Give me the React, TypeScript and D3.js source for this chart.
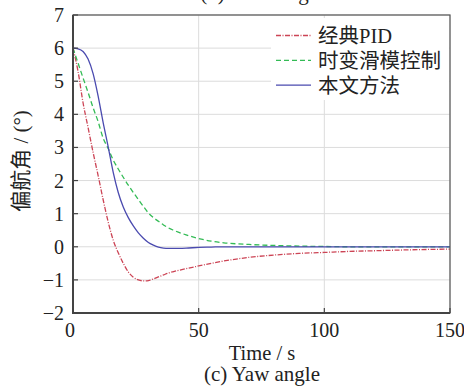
import React from "react";
import * as d3 from "d3";

const timeS = [0, 2, 4, 6, 8, 10, 12, 14, 16, 18, 20, 22, 24, 26, 28, 30, 32, 34, 36, 38, 40, 45, 50, 55, 60, 70, 80, 90, 100, 110, 120, 135, 150];
const pidYaw = [6, 5.3, 4.35, 3.6, 2.85, 2.15, 1.42, 0.75, 0.2, -0.18, -0.5, -0.76, -0.92, -1.0, -1.03, -1.02, -0.97, -0.91, -0.85, -0.79, -0.75, -0.66, -0.58, -0.5, -0.43, -0.32, -0.25, -0.2, -0.17, -0.14, -0.12, -0.09, -0.07];
const smcYaw = [6, 5.55, 5.1, 4.66, 4.2, 3.78, 3.28, 2.97, 2.62, 2.35, 2.1, 1.86, 1.64, 1.43, 1.22, 1.02, 0.88, 0.77, 0.66, 0.57, 0.5, 0.36, 0.25, 0.17, 0.12, 0.07, 0.04, 0.02, 0.01, 0, 0, 0, 0];
const oursYaw = [6, 5.98, 5.9, 5.67, 5.23, 4.55, 3.75, 3.02, 2.25, 1.64, 1.2, 0.88, 0.63, 0.42, 0.26, 0.13, 0.05, -0.01, -0.04, -0.05, -0.05, -0.04, -0.02, -0.01, 0, 0, 0, 0, 0, 0, 0, 0, 0];

const seriesNames = ["经典PID", "时变滑模控制", "本文方法"];
const seriesColors = ["#cc4455", "#33bb55", "#4a4aaf"];
const seriesDash = ["5,1.5,1,1.5", "5,3", ""];
const xTicks = [0, 50, 100, 150];
const yTicks = [-2, -1, 0, 1, 2, 3, 4, 5, 6, 7];

const W = 464, H = 388;
const m = { left: 73, right: 450, top: 15, bottom: 313 };

export default function App() {
  const x = d3.scaleLinear().domain([0, 150]).range([m.left, m.right]);
  const y = d3.scaleLinear().domain([-2, 7]).range([m.bottom, m.top]);
  const all = [pidYaw, smcYaw, oursYaw];
  const line = d3
    .line<number>()
    .x((_, i) => x(timeS[i]))
    .y((d) => y(d))
    .curve(d3.curveMonotoneX);
  const serif = "'Times New Roman', 'Liberation Serif', serif";
  const cjk = "'Times New Roman', 'Liberation Serif', 'Noto Sans CJK SC', serif";
  const fmt = (v: number) => (v < 0 ? "\u2212" + Math.abs(v) : String(v));
  return (
    <div style={{ position: "fixed", left: 0, top: 0 }}>
      <svg width={W} height={H} style={{ display: "block", background: "#fff" }}>
        <defs>
          <clipPath id="plot">
            <rect x={m.left} y={m.top} width={m.right - m.left} height={m.bottom - m.top} />
          </clipPath>
        </defs>
        <text x={262} y={0} textAnchor="middle" fontFamily={serif} fontSize={21} fill="#222">
          (b) Pitch angle
        </text>
        {yTicks.map((t) => (
          <line key={"gy" + t} x1={m.left} x2={m.right} y1={y(t)} y2={y(t)} stroke="#dcdcdc" strokeWidth={1} />
        ))}
        {xTicks.map((t) => (
          <line key={"gx" + t} x1={x(t)} x2={x(t)} y1={m.top} y2={m.bottom} stroke="#dcdcdc" strokeWidth={1} />
        ))}
        <rect x={271} y={18} width={178} height={82} fill="#fff" />
        <g clipPath="url(#plot)">
          {all.map((s, i) => (
            <path
              key={i}
              d={line(s) || ""}
              fill="none"
              stroke={seriesColors[i]}
              strokeWidth={1.3}
              strokeDasharray={seriesDash[i]}
            />
          ))}
        </g>
        {seriesNames.map((n, i) => (
          <g key={n}>
            <line
              x1={276}
              x2={311}
              y1={35.5 + i * 24.8}
              y2={35.5 + i * 24.8}
              stroke={seriesColors[i]}
              strokeWidth={1.3}
              strokeDasharray={seriesDash[i]}
            />
            <text x={318} y={42.5 + i * 25} fontFamily={cjk} fontSize={20.5} fill="#222">
              {n}
            </text>
          </g>
        ))}
        <rect x={m.left} y={m.top} width={m.right - m.left} height={m.bottom - m.top} fill="none" stroke="#555" strokeWidth={1.2} />
        <line x1={m.left} x2={m.left} y1={m.top} y2={m.bottom + 1} stroke="#444" strokeWidth={2} />
        <line x1={m.left - 1} x2={m.right} y1={m.bottom} y2={m.bottom} stroke="#444" strokeWidth={2} />
        {yTicks.map((t) => (
          <g key={"ty" + t}>
            <line x1={m.left} x2={m.left + 5} y1={y(t)} y2={y(t)} stroke="#444" strokeWidth={1.2} />
            <text x={64} y={y(t)} dy="0.35em" textAnchor="end" fontFamily={serif} fontSize={20} fill="#222">
              {fmt(t)}
            </text>
          </g>
        ))}
        {xTicks.map((t) => (
          <g key={"tx" + t}>
            <line x1={x(t)} x2={x(t)} y1={m.bottom} y2={m.bottom - 5} stroke="#444" strokeWidth={1.2} />
            <text x={x(t) - (t === 0 ? 3 : 0)} y={337} textAnchor="middle" fontFamily={serif} fontSize={20} fill="#222">
              {t}
            </text>
          </g>
        ))}
        <text x={262} y={360} textAnchor="middle" fontFamily={serif} fontSize={20.5} fill="#222">
          Time / s
        </text>
        <text x={262} y={381} textAnchor="middle" fontFamily={serif} fontSize={21} fill="#222">
          (c) Yaw angle
        </text>
        <text
          transform={`translate(28,161) rotate(-90)`}
          textAnchor="middle"
          fontFamily={cjk}
          fontSize={21}
          fill="#222"
        >
          偏航角 / (°)
        </text>
      </svg>
    </div>
  );
}
